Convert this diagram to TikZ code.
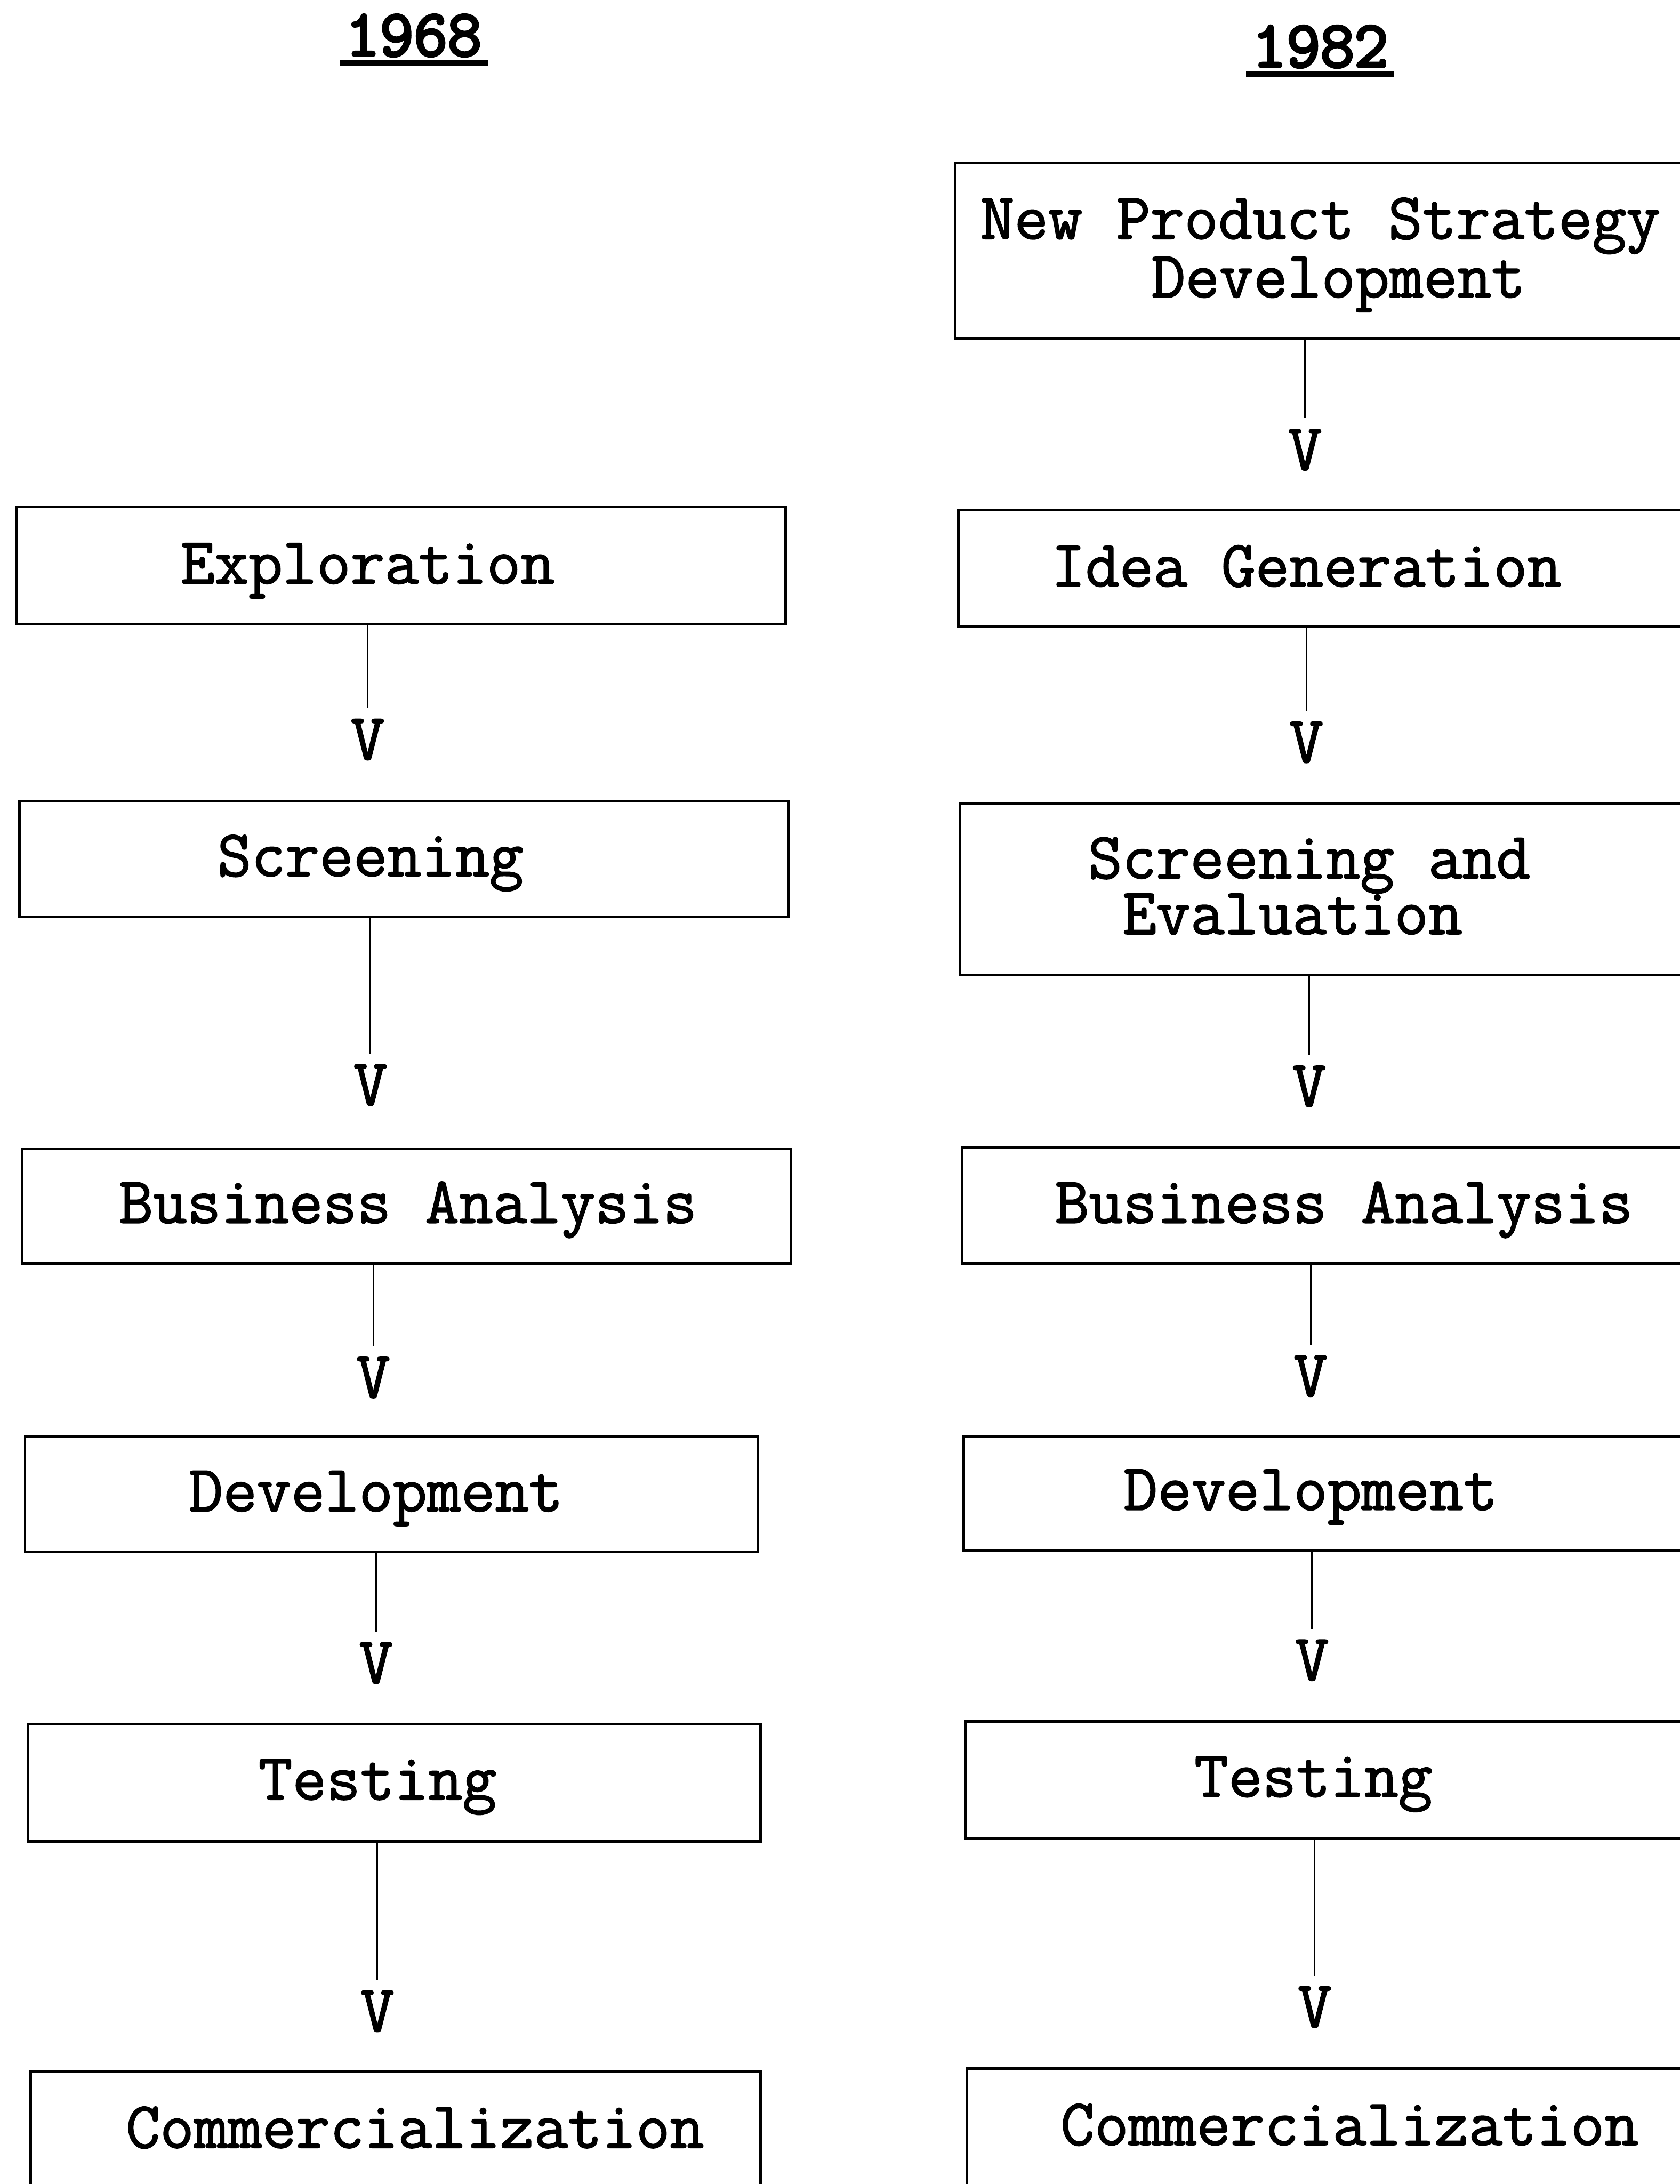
\documentclass[tikz,border=0pt]{standalone}
\usepackage{fontspec}
\newfontfamily\boxfont{Latin Modern Mono}[FakeBold=1.6]
\newfontfamily\yrfont{Latin Modern Mono}[FakeBold=4]
\usetikzlibrary{fit}
\begin{document}
\begin{tikzpicture}[x=0.5pt,y=-0.5pt,
  box/.style={draw, line width=0.9pt, inner sep=0pt},
  lbl/.style={inner sep=0pt, anchor=base, font=\fontsize{23.7pt}{21pt}\selectfont\boxfont},
  twoline/.style={inner sep=0pt, align=center, font=\fontsize{23.7pt}{21pt}\selectfont\boxfont},
  twolineb/.style={inner sep=0pt, align=center, font=\fontsize{23.7pt}{20pt}\selectfont\boxfont},
  vhead/.style={inner sep=0pt, outer sep=4pt, font=\fontsize{23.7pt}{28pt}\selectfont\boxfont},
  conn/.style={line width=0.55pt},
  yr/.style={inner sep=0pt, anchor=base, font=\fontsize{23.7pt}{28pt}\selectfont\yrfont},
  ul/.style={line width=2pt}]
\path[fill=white] (0,0) rectangle (1206,1568);
\useasboundingbox (0,0) rectangle (1206,1568);

% titles
\node[yr] (y68) at (297,40) {1968};
\draw[ul] ([xshift=-2pt,yshift=-2.5pt]y68.base west) -- ([xshift=2pt,yshift=-2.5pt]y68.base east);
\node[yr] (y82) at (948,48) {1982};
\draw[ul] ([xshift=-2pt,yshift=-2.5pt]y82.base west) -- ([xshift=2pt,yshift=-2.5pt]y82.base east);

% ---------- left column (1968)
\node[box, fit={(12,364) (564,448)}] (L1) {};
\node[lbl] (L1t) at (264,419) {Exploration};
\node[vhead] (vL1) at (264,531) {V};
\draw[conn] (L1.south -| vL1) -- (vL1);

\node[box, fit={(14,575) (566,658)}] (L2) {};
\node[lbl] (L2t) at (266,629) {Screening};
\node[vhead] (vL2) at (266,779) {V};
\draw[conn] (L2.south -| vL2) -- (vL2);

\node[box, fit={(16,825) (568,907)}] (L3) {};
\node[lbl] (L3t) at (293,878) {Business Analysis};
\node[vhead] (vL3) at (268,989) {V};
\draw[conn] (L3.south -| vL3) -- (vL3);

\node[box, fit={(18,1031) (544,1114)}] (L4) {};
\node[lbl] (L4t) at (270,1085) {Development};
\node[vhead] (vL4) at (270,1194) {V};
\draw[conn] (L4.south -| vL4) -- (vL4);

\node[box, fit={(20,1238) (546,1322)}] (L5) {};
\node[lbl] (L5t) at (271,1292) {Testing};
\node[vhead] (vL5) at (271,1444) {V};
\draw[conn] (L5.south -| vL5) -- (vL5);

\node[box, fit={(22,1487) (546,1590)}] (L6) {};
\node[lbl] (L6t) at (298,1542) {Commercialization};

% ---------- right column (1982)
\node[box, fit={(686,117) (1220,243)}] (R1) {};
\node[twoline] (R1t) at (948,183) {New Product Strategy\\\hspace*{13pt}Development};
\node[vhead] (vR1) at (937,323) {V};
\draw[conn] (R1.south -| vR1) -- (vR1);

\node[box, fit={(688,366) (1220,450)}] (R2) {};
\node[lbl] (R2t) at (938,421) {Idea Generation};
\node[vhead] (vR2) at (938,533) {V};
\draw[conn] (R2.south -| vR2) -- (vR2);

\node[box, fit={(689,577) (1220,700)}] (R3) {};
\node[twolineb] (R3t) at (940,636) {Screening and\\Evaluation\hspace*{12pt}};
\node[vhead] (vR3) at (940,780) {V};
\draw[conn] (R3.south -| vR3) -- (vR3);

\node[box, fit={(691,824) (1220,907)}] (R4) {};
\node[lbl] (R4t) at (965,878) {Business Analysis};
\node[vhead] (vR4) at (941,988) {V};
\draw[conn] (R4.south -| vR4) -- (vR4);

\node[box, fit={(692,1031) (1220,1113)}] (R5) {};
\node[lbl] (R5t) at (941,1084) {Development};
\node[vhead] (vR5) at (942,1192) {V};
\draw[conn] (R5.south -| vR5) -- (vR5);

\node[box, fit={(693,1236) (1220,1320)}] (R6) {};
\node[lbl] (R6t) at (943,1290) {Testing};
\node[vhead] (vR6) at (944,1441) {V};
\draw[conn] (R6.south -| vR6) -- (vR6);

\node[box, fit={(694,1485) (1220,1590)}] (R7) {};
\node[lbl] (R7t) at (969,1540) {Commercialization};
\end{tikzpicture}
\end{document}
